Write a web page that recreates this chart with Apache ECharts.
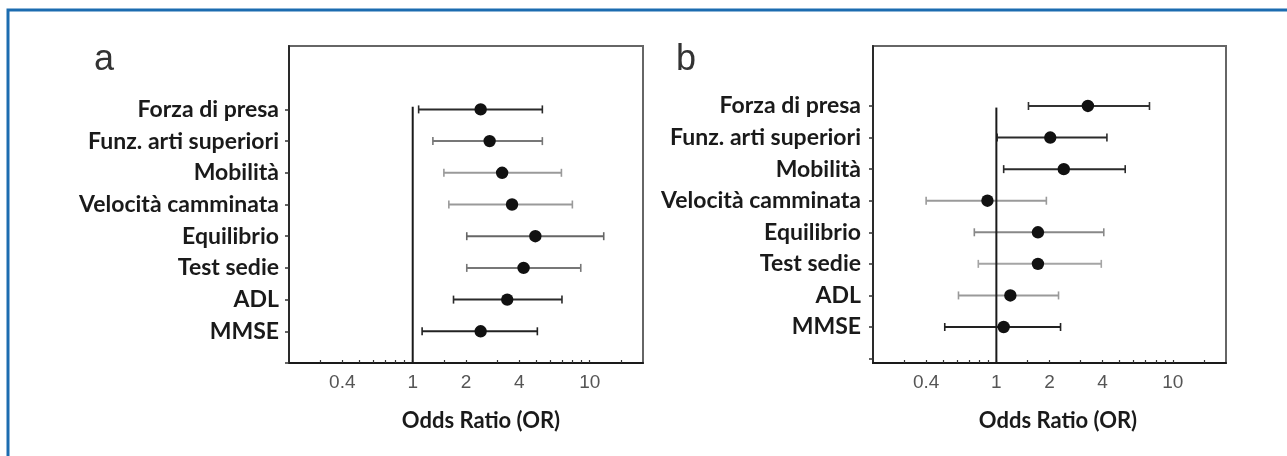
<!DOCTYPE html>
<html>
<head>
<meta charset="utf-8">
<script src="https://cdn.jsdelivr.net/npm/echarts@6/dist/echarts.min.js"></script>
<style>
  html, body { margin: 0; padding: 0; background: #fff; }
  #chart { width: 1287px; height: 456px; }
</style>
</head>
<body>
<div id="chart"></div>
<script>
// categories, top to bottom
const categories = ['Forza di presa', 'Funz. arti superiori', 'Mobilità', 'Velocità camminata',
    'Equilibrio', 'Test sedie', 'ADL', 'MMSE'];

// panel a: odds ratio with 95% CI
const orA = [2.42, 2.72, 3.20, 3.64, 4.93, 4.23, 3.42, 2.42];
const loA = [1.08, 1.30, 1.50, 1.60, 2.02, 2.02, 1.70, 1.13];
const hiA = [5.40, 5.40, 6.92, 7.98, 12.0, 8.90, 6.97, 5.06];

// panel b
const orB = [3.30, 2.02, 2.41, 0.89, 1.72, 1.72, 1.20, 1.10];
const loB = [1.52, 1.01, 1.10, 0.40, 0.75, 0.79, 0.61, 0.51];
const hiB = [7.37, 4.23, 5.37, 1.92, 4.06, 3.93, 2.25, 2.31];

// x axis (log scale, odds ratio)
const xLabels = [0.4, 1, 2, 4, 10];
const xTicks = [0.3, 0.4, 0.5, 0.6, 0.7, 0.8, 0.9, 1, 1.5, 2, 3, 4, 5, 6, 7, 8, 9, 10, 15];
const xMin = 0.2, xMax = 20;

// grey shade of each CI line (dark / mid / light)
const shadeA = ['#2b2b2b', '#777', '#9a9a9a', '#9a9a9a', '#666', '#777', '#2b2b2b', '#222'];
const shadeB = ['#333', '#2b2b2b', '#2b2b2b', '#9a9a9a', '#888', '#a5a5a5', '#9a9a9a', '#222'];

const lg = v => Math.log10(v);
const n = categories.length;

function rowsFor(or, lo, hi) {
    // row position: top category = n, bottom = 1
    return categories.map((c, i) => [n - i, lg(lo[i]), lg(or[i]), lg(hi[i])]);
}

function ciRenderer(shades) {
    return function(params, api) {
        const y = api.value(0);
        const pLo = api.coord([api.value(1), y]);
        const pOr = api.coord([api.value(2), y]);
        const pHi = api.coord([api.value(3), y]);
        const col = shades[params.dataIndex];
        const st = { stroke: col, lineWidth: 2 };
        return {
            type: 'group',
            children: [
                { type: 'line', shape: { x1: pLo[0], y1: pLo[1], x2: pHi[0], y2: pHi[1] }, style: st },
                { type: 'line', shape: { x1: pLo[0], y1: pLo[1] - 4, x2: pLo[0], y2: pLo[1] + 4 }, style: { stroke: col, lineWidth: 1.6 } },
                { type: 'line', shape: { x1: pHi[0], y1: pHi[1] - 4, x2: pHi[0], y2: pHi[1] + 4 }, style: { stroke: col, lineWidth: 1.6 } },
                { type: 'circle', shape: { cx: pOr[0], cy: pOr[1], r: 6.2 }, style: { fill: '#111' } }
            ]
        };
    };
}

const labelFont = { fontFamily: 'Lato', fontWeight: 'bold', fontSize: 23, color: '#1a1a1a' };

function xAxisFor(gi) {
    return {
        type: 'value', gridIndex: gi, min: lg(xMin), max: lg(xMax),
        axisLine: { onZero: false, lineStyle: { color: '#1a1a1a', width: 2 } },
        axisTick: { inside: true, length: 3, customValues: xTicks.map(lg), lineStyle: { color: '#333', width: 1.2 } },
        axisLabel: {
            customValues: xLabels.map(lg), margin: 10,
            formatter: v => String(Math.round(Math.pow(10, v) * 10) / 10),
            fontFamily: 'Liberation Sans', fontSize: 19, color: '#555'
        },
        splitLine: { show: false }
    };
}

function yAxisFor(gi, min, max, margin) {
    return {
        type: 'value', gridIndex: gi, min: min, max: max,
        axisLine: { show: true, onZero: false, lineStyle: { color: '#2a2a2a', width: 2 } },
        axisTick: { show: true, length: 4, customValues: [0, 1, 2, 3, 4, 5, 6, 7, 8], lineStyle: { color: '#333', width: 1.5 } },
        axisLabel: Object.assign({
            customValues: [1, 2, 3, 4, 5, 6, 7, 8], margin: margin,
            formatter: v => categories[n - Math.round(v)]
        }, labelFont),
        splitLine: { show: false }
    };
}

const chart = echarts.init(document.getElementById('chart'));
chart.setOption({
    animation: false,
    backgroundColor: '#fff',
    grid: [
        { left: 289, top: 46, width: 354, height: 317, show: true, borderColor: '#666', borderWidth: 2 },
        { left: 873, top: 46, width: 353, height: 317, show: true, borderColor: '#666', borderWidth: 2 }
    ],
    xAxis: [xAxisFor(0), xAxisFor(1)],
    yAxis: [yAxisFor(0, 0, 10, 10), yAxisFor(1, -0.14, 9.9, 12)],
    series: [
        {
            type: 'line', xAxisIndex: 0, yAxisIndex: 0, symbol: 'none', silent: true,
            lineStyle: { color: '#1a1a1a', width: 2 }, data: [[lg(1), 0], [lg(1), 8.08]]
        },
        {
            type: 'line', xAxisIndex: 1, yAxisIndex: 1, symbol: 'none', silent: true,
            lineStyle: { color: '#1a1a1a', width: 2 }, data: [[lg(1), -0.14], [lg(1), 7.95]]
        },
        {
            type: 'custom', xAxisIndex: 0, yAxisIndex: 0, renderItem: ciRenderer(shadeA),
            encode: { x: [1, 2, 3], y: 0 }, data: rowsFor(orA, loA, hiA)
        },
        {
            type: 'custom', xAxisIndex: 1, yAxisIndex: 1, renderItem: ciRenderer(shadeB),
            encode: { x: [1, 2, 3], y: 0 }, data: rowsFor(orB, loB, hiB)
        }
    ],
    graphic: [
        // blue frame (left and top edges)
        { type: 'polyline', shape: { points: [[8, 456], [8, 10], [1287, 10]] }, style: { stroke: '#1c6cb0', lineWidth: 3, fill: null } },
        { type: 'text', left: 94, top: 42, style: { text: 'a', font: '36px "Liberation Sans"', fill: '#333' } },
        { type: 'text', left: 676, top: 42, style: { text: 'b', font: '36px "Liberation Sans"', fill: '#333' } },
        { type: 'text', x: 481, y: 421, style: { text: 'Odds Ratio (OR)', font: 'bold 22px Lato', fill: '#1a1a1a', align: 'center', verticalAlign: 'middle' } },
        { type: 'text', x: 1058, y: 421, style: { text: 'Odds Ratio (OR)', font: 'bold 22px Lato', fill: '#1a1a1a', align: 'center', verticalAlign: 'middle' } }
    ]
});
</script>
</body>
</html>
